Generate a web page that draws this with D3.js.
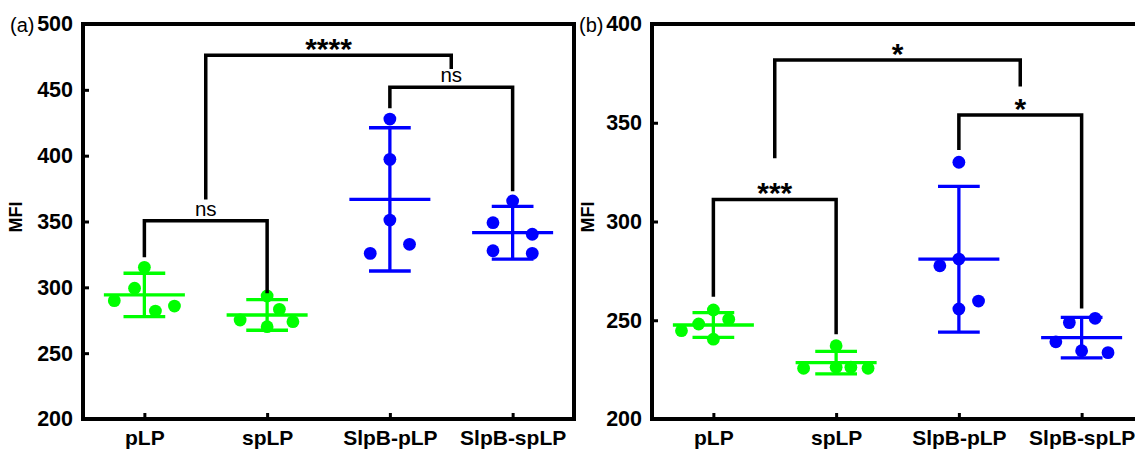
<!DOCTYPE html>
<html>
<head>
<meta charset="utf-8">
<script src="https://cdn.jsdelivr.net/npm/d3@7"></script>
<style>
  body { margin: 0; background: #fff; }
  svg { display: block; font-family: "Liberation Sans", Arial, sans-serif; }
</style>
</head>
<body>
<div id="my_dataviz"></div>
<script>
// categories on the x axis (same for both panels)
var categories = ["pLP", "spLP", "SlpB-pLP", "SlpB-spLP"];
var colors = ["#00ff00", "#00ff00", "#0000ff", "#0000ff"];

// panel (a) values
var pointsA = [
  [315.2, 299.3, 289.9, 282.0, 285.8],
  [293.4, 283.3, 275.2, 273.9, 270.1],
  [427.8, 397.2, 351.1, 325.8, 332.7],
  [365.6, 349.1, 340.3, 327.8, 325.8]
];
// horizontal jitter of each point, in category steps
var jitterA = [
  [0, -0.08, -0.245, 0.09, 0.245],
  [0, 0.10, -0.22, 0.21, 0],
  [0, 0, 0, -0.16, 0.16],
  [0, -0.16, 0.16, -0.16, 0.16]
];
var meanA = [294.2, 279.0, 366.8, 341.5];
var sdA = [16.5, 11.6, 54.4, 20.0];
var yDomainA = [200, 500];
var yTicksA = [200, 250, 300, 350, 400, 450, 500];
// brackets: from/to category index, bar height, left and right leg ends
var bracketsA = [
  {from: 0, to: 1, top: 350.6, left: 322.8, right: 295.5, label: "ns"},
  {from: 0.5, to: 2.5, top: 476.2, left: 366.8, right: 465.8, label: "****"},
  {from: 2, to: 3, top: 451.9, left: 436.0, right: 373.0, label: "ns"}
];

// panel (b) values
var pointsB = [
  [255.2, 248.1, 250.5, 244.7, 240.4],
  [237.1, 226.2, 226.2, 225.7, 225.7],
  [330.0, 281.0, 277.6, 259.7, 255.7],
  [251.0, 248.8, 239.1, 234.6, 233.6]
];
var jitterB = [
  [0, -0.12, 0.125, -0.26, 0],
  [0, 0, 0.12, 0.26, -0.265],
  [0, 0, -0.155, 0.16, 0],
  [0.11, -0.10, -0.21, 0, 0.215]
];
var meanB = [247.6, 228.5, 280.9, 241.2];
var sdB = [6.3, 5.7, 36.9, 10.3];
var yDomainB = [200, 400];
var yTicksB = [200, 250, 300, 350, 400];
var bracketsB = [
  {from: 0, to: 1, top: 311.2, left: 261.9, right: 242.9, label: "***"},
  {from: 0.5, to: 2.5, top: 381.8, left: 332.0, right: 368.3, label: "*"},
  {from: 2, to: 3, top: 353.9, left: 336.2, right: 256.0, label: "*"}
];

var svg = d3.select("#my_dataviz")
  .append("svg")
    .attr("width", 1135)
    .attr("height", 450);

var width = 491, height = 395;

function drawPanel(left, tag, points, jitter, means, sds, yDomain, yTicks, brackets, mfiOffset) {
  var g = svg.append("g")
    .attr("transform", "translate(" + left + ",24)");

  // x: category index, half a step of padding at both ends
  var x = d3.scaleLinear()
    .domain([-0.5, categories.length - 0.5])
    .range([0, width]);
  var y = d3.scaleLinear()
    .domain(yDomain)
    .range([height, 0]);
  var step = x(1) - x(0);

  // y axis, ticks pointing in
  var yAxis = g.append("g")
    .call(d3.axisLeft(y).tickValues(yTicks).tickSizeInner(-6).tickSizeOuter(0).tickPadding(10));
  yAxis.select(".domain").remove();
  yAxis.selectAll("line").attr("stroke", "#000").attr("stroke-width", 3);
  yAxis.selectAll("text")
    .style("font-size", "21.5px").style("font-weight", "bold").attr("fill", "#000");

  // x axis
  var xAxis = g.append("g")
    .attr("transform", "translate(0," + height + ")")
    .call(d3.axisBottom(x).tickValues(d3.range(categories.length))
      .tickFormat(function(d) { return categories[d]; })
      .tickSizeInner(-6).tickSizeOuter(0).tickPadding(11));
  xAxis.select(".domain").remove();
  xAxis.selectAll("line").attr("stroke", "#000").attr("stroke-width", 3);
  xAxis.selectAll("text")
    .style("font-size", "21px").style("font-weight", "bold").attr("fill", "#000");

  // frame
  g.append("rect")
    .attr("width", width)
    .attr("height", height)
    .attr("fill", "none")
    .attr("stroke", "#000")
    .attr("stroke-width", 4);

  // mean and sd bars
  categories.forEach(function(c, i) {
    var cx = x(i), col = colors[i];
    var lo = means[i] - sds[i], hi = means[i] + sds[i];
    g.append("line")
      .attr("x1", cx).attr("x2", cx)
      .attr("y1", y(hi)).attr("y2", y(lo))
      .attr("stroke", col).attr("stroke-width", 3.3);
    [lo, hi].forEach(function(v) {
      g.append("line")
        .attr("x1", cx - step * 0.17).attr("x2", cx + step * 0.17)
        .attr("y1", y(v)).attr("y2", y(v))
        .attr("stroke", col).attr("stroke-width", 3.3);
    });
    g.append("line")
      .attr("x1", cx - step * 0.33).attr("x2", cx + step * 0.33)
      .attr("y1", y(means[i])).attr("y2", y(means[i]))
      .attr("stroke", col).attr("stroke-width", 3.3);

    // dots
    g.append("g")
      .selectAll("circle")
      .data(points[i])
      .enter()
      .append("circle")
        .attr("cx", function(d, j) { return x(i + jitter[i][j]); })
        .attr("cy", function(d) { return y(d); })
        .attr("r", 6.4)
        .style("fill", col);
  });

  // significance brackets
  brackets.forEach(function(b) {
    var x1 = x(b.from), x2 = x(b.to);
    g.append("path")
      .attr("d", "M" + x1 + "," + y(b.left) + "V" + y(b.top) + "H" + x2 + "V" + y(b.right))
      .attr("fill", "none")
      .attr("stroke", "#000")
      .attr("stroke-width", 3.5);
    var stars = b.label.charAt(0) === "*";
    g.append("text")
      .attr("x", (x1 + x2) / 2)
      .attr("y", y(b.top) + (stars ? 4 : -5))
      .attr("text-anchor", "middle")
      .style("font-size", stars ? "30px" : "20.5px")
      .style("font-weight", stars ? "bold" : "normal")
      .text(b.label);
  });

  // y axis title
  g.append("text")
    .attr("transform", "rotate(-90)")
    .attr("x", -(217 - 24))
    .attr("y", mfiOffset)
    .attr("dy", "0.35em")
    .attr("text-anchor", "middle")
    .style("font-size", "18px")
    .style("font-weight", "bold")
    .text("MFI");

  // panel tag
  svg.append("text")
    .attr("x", left - 73)
    .attr("y", 32)
    .style("font-size", "20px")
    .text(tag);
}

drawPanel(83, "(a)", pointsA, jitterA, meanA, sdA, yDomainA, yTicksA, bracketsA, -67);
drawPanel(652, "(b)", pointsB, jitterB, meanB, sdB, yDomainB, yTicksB, bracketsB, -64);
</script>
</body>
</html>
